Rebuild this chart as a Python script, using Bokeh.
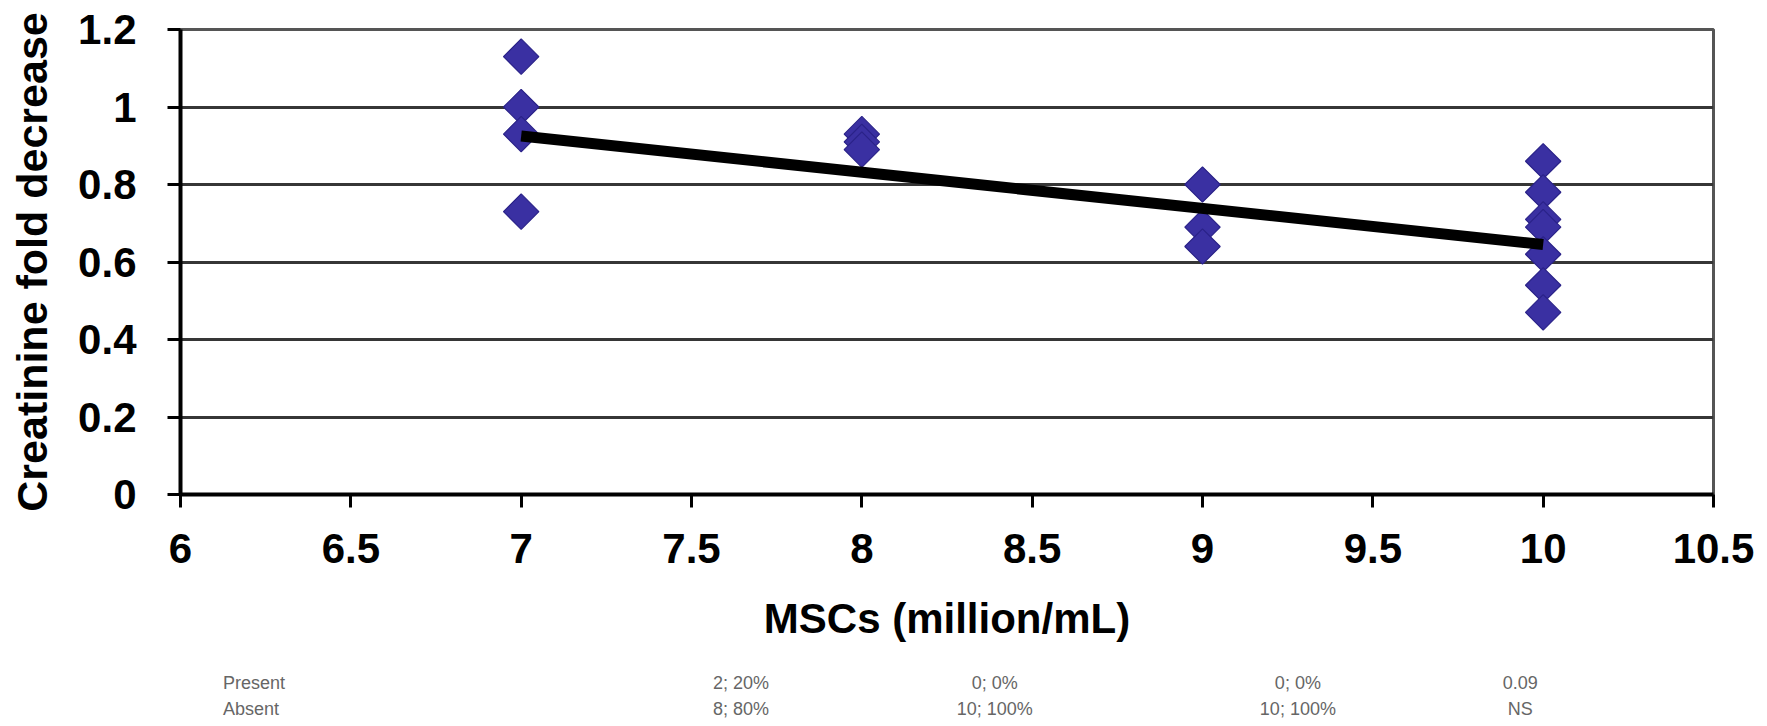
from bokeh.plotting import figure
from bokeh.models import FixedTicker
from bokeh.layouts import column
from bokeh.embed import file_html
from bokeh.resources import INLINE
from bokeh.core.properties import value
import math

# ---- data ----
msc_x = [7, 7, 7, 7,
         8, 8, 8,
         9, 9, 9,
         10, 10, 10, 10, 10, 10, 10]
creat_y = [1.13, 1.00, 0.93, 0.73,
           0.93, 0.91, 0.89,
           0.80, 0.69, 0.64,
           0.86, 0.78, 0.71, 0.69, 0.62, 0.54, 0.47]

trend_x = [7, 10]
trend_y = [0.925, 0.645]

x_ticks = [6, 6.5, 7, 7.5, 8, 8.5, 9, 9.5, 10, 10.5]
x_tick_labels = ["6", "6.5", "7", "7.5", "8", "8.5", "9", "9.5", "10", "10.5"]
y_ticks = [0, 0.2, 0.4, 0.6, 0.8, 1.0, 1.2]
y_tick_labels = ["0", "0.2", "0.4", "0.6", "0.8", "1", "1.2"]

table_rows = ["Present", "Absent"]
present_vals = ["2; 20%", "0; 0%", "0; 0%", "0.09"]
absent_vals = ["8; 80%", "10; 100%", "10; 100%", "NS"]

# ---- layout constants ----
table_col_x = [7.645, 8.39, 9.28, 9.933]
table_row_label_x = 6.125
table_row_y = [44, 18]          # pixels from bottom of the table strip

FONT = "Liberation Sans"
W = 1767
MAIN_H = 650
TABLE_H = 76

p = figure(width=W, height=MAIN_H, x_range=(6, 10.5), y_range=(0, 1.2),
           output_backend="svg", toolbar_location=None,
           min_border_left=180, min_border_right=54,
           min_border_top=29, min_border_bottom=MAIN_H - 494)
p.background_fill_color = "white"
p.border_fill_color = "white"
p.outline_line_color = "#555555"
p.outline_line_width = 3

# grid
p.xgrid.grid_line_color = None
p.ygrid.grid_line_color = "#363636"
p.ygrid.grid_line_width = 3
p.ygrid.ticker = FixedTicker(ticks=y_ticks)

# axes
for ax in (p.xaxis[0], p.yaxis[0]):
    ax.axis_line_color = "black"
    ax.axis_line_width = 4
    ax.major_tick_line_color = "black"
    ax.major_tick_line_width = 3
    ax.major_tick_out = 13
    ax.major_tick_in = 0
    ax.minor_tick_line_color = None
    ax.major_label_text_font = FONT
    ax.major_label_text_font_style = "bold"
    ax.major_label_text_font_size = "42px"
    ax.major_label_text_color = "black"
    ax.axis_label_text_font = FONT
    ax.axis_label_text_font_style = "bold"
    ax.axis_label_text_color = "black"

p.xaxis.ticker = FixedTicker(ticks=x_ticks)
p.xaxis.major_label_overrides = {t: l for t, l in zip(x_ticks, x_tick_labels)}
p.yaxis.ticker = FixedTicker(ticks=y_ticks)
p.yaxis.major_label_overrides = {t: l for t, l in zip(y_ticks, y_tick_labels)}

p.xaxis.axis_label = "MSCs (million/mL)"
p.xaxis.axis_label_text_font_size = "42px"
p.xaxis.major_label_standoff = 26
p.xaxis.axis_label_standoff = 29

p.yaxis.axis_label = "Creatinine fold decrease"
p.yaxis.axis_label_text_font_size = "43px"
p.yaxis.major_label_standoff = 31
p.yaxis.axis_label_standoff = 19

# points (diamonds)
p.scatter(msc_x, creat_y, marker="square", size=25, angle=math.pi / 4,
          fill_color="#3a30a2", line_color="#2a2288", line_width=1.2)

# trend line
p.line(trend_x, trend_y, line_color="black", line_width=11)

# table strip below the chart, sharing the x scale
t = figure(width=W, height=TABLE_H, x_range=p.x_range, y_range=(0, TABLE_H),
           output_backend="svg", toolbar_location=None,
           min_border_left=180, min_border_right=54,
           min_border_top=0, min_border_bottom=0,
           x_axis_type=None, y_axis_type=None)
t.outline_line_color = None
t.grid.grid_line_color = None
t.background_fill_color = "white"
t.border_fill_color = "white"

TFONT = value("Liberation Sans")
vals_by_row = [present_vals, absent_vals]
row_x, row_y, row_txt = [], [], []
cell_x, cell_y, cell_txt = [], [], []
for row_name, ry, vals in zip(table_rows, table_row_y, vals_by_row):
    row_x.append(table_row_label_x)
    row_y.append(ry)
    row_txt.append(row_name)
    for cx, v in zip(table_col_x, vals):
        cell_x.append(cx)
        cell_y.append(ry)
        cell_txt.append(v)

t.text(row_x, row_y, text=row_txt, text_align="left", text_baseline="middle",
       text_font=TFONT, text_font_size="18px", text_color="#666666")
t.text(cell_x, cell_y, text=cell_txt, text_align="center", text_baseline="middle",
       text_font=TFONT, text_font_size="18px", text_color="#666666")

layout = column(p, t, spacing=0)
open("out.html", "w").write(file_html(layout, INLINE))
